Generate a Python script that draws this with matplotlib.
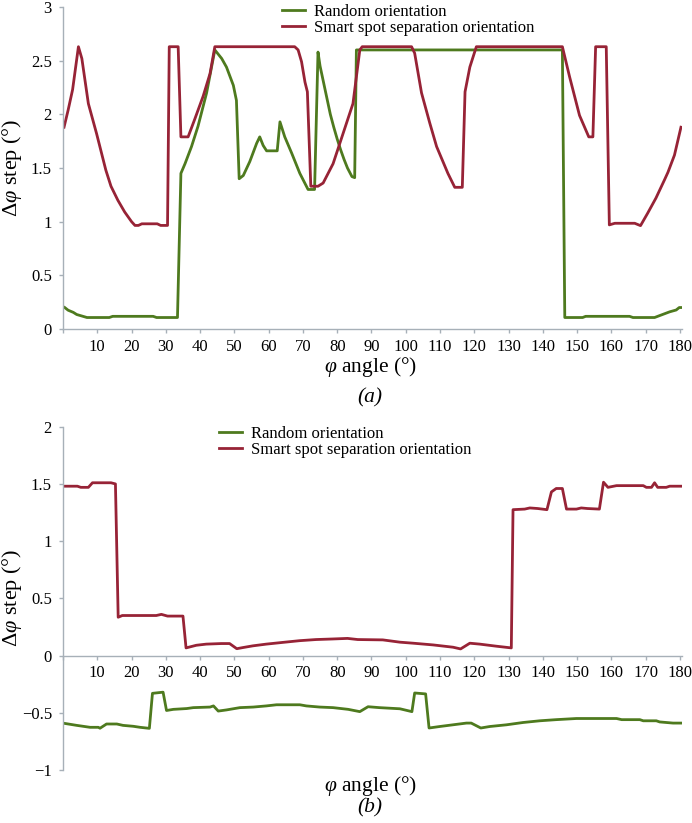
import matplotlib
matplotlib.use("Agg")
import matplotlib.pyplot as plt

GREEN = "#4e7a1e"
RED = "#972336"
AXIS_COLOR = "#a7b0b8"

plt.rcParams["font.family"] = ["Liberation Serif", "DejaVu Serif"]
plt.rcParams["mathtext.fontset"] = "custom"
plt.rcParams["mathtext.rm"] = "Liberation Serif"
plt.rcParams["mathtext.it"] = "Liberation Serif:italic"

LABELS = ["Random orientation", "Smart spot separation orientation"]

# panel (a)
a_random_x = [0.5, 1.5, 3, 4, 7, 13.5, 14.5, 26.3, 27.3, 33.4, 34.4, 35.6, 37.5, 39.4,
              41.9, 44.3, 46.3, 47.7, 49.7, 50.6, 51.4, 52.6, 54.5, 56.5, 57.4, 58.4,
              59.4, 62.5, 63.3, 64.7, 66.7, 69.1, 71.5, 73.4, 74.4, 75, 76, 77, 78, 79,
              80, 81, 82, 83, 84.3, 85.1, 85.6, 145.7, 146.4, 151.6, 152.5, 165.3, 166.3,
              172.6, 174.5, 177, 178.9, 179.8, 180.3]
a_random_y = [0.20, 0.175, 0.155, 0.135, 0.107, 0.107, 0.118, 0.118, 0.107, 0.107, 1.45,
              1.54, 1.70, 1.89, 2.20, 2.60, 2.52, 2.44, 2.27, 2.13, 1.40, 1.43, 1.56, 1.73,
              1.79, 1.71, 1.66, 1.66, 1.93, 1.79, 1.64, 1.45, 1.30, 1.30, 2.58, 2.45, 2.30,
              2.15, 2.00, 1.88, 1.77, 1.67, 1.58, 1.50, 1.42, 1.41, 2.60, 2.60, 0.107,
              0.107, 0.118, 0.118, 0.107, 0.107, 0.13, 0.16, 0.177, 0.20, 0.20]

a_smart_x = [0.3, 1.5, 2.8, 4.5, 5.5, 7.4, 9.8, 12.5, 14, 16, 18, 20, 21, 22, 23, 27.5,
             28.5, 30.5, 31, 33.6, 34.4, 36.5, 38.5, 40.9, 42.9, 44.3, 67.6, 68.6, 69.6,
             70.6, 71.3, 72.3, 74.4, 75.9, 78.8, 81.7, 84.6, 86.6, 87.3, 101.7, 102.6,
             104.6, 107, 109, 112.3, 114.3, 116.5, 117.3, 118.7, 120.6, 145.7, 147.8,
             150.7, 153.4, 154.6, 155.4, 158.5, 159.4, 161, 166.8, 168.5, 170.6, 173,
             175.5, 176.5, 178.4, 180.3]
a_smart_y = [1.88, 2.04, 2.23, 2.63, 2.52, 2.10, 1.82, 1.48, 1.33, 1.20, 1.09, 1.00, 0.965,
             0.965, 0.98, 0.98, 0.965, 0.965, 2.63, 2.63, 1.79, 1.79, 1.96, 2.17, 2.38,
             2.63, 2.63, 2.60, 2.49, 2.30, 2.21, 1.33, 1.33, 1.36, 1.54, 1.82, 2.10, 2.60,
             2.63, 2.63, 2.57, 2.20, 1.92, 1.70, 1.45, 1.32, 1.32, 2.21, 2.44, 2.63, 2.63,
             2.35, 1.99, 1.79, 1.79, 2.63, 2.63, 0.97, 0.985, 0.985, 0.963, 1.08, 1.22,
             1.39, 1.46, 1.62, 1.88]

# panel (b)
b_random_x = [0.3, 4, 7.9, 10.3, 10.8, 12.7, 15.7, 17.5, 20.5, 22.5, 25.2, 26.1, 29.2,
              30.2, 32.2, 36.1, 38, 42.9, 43.9, 45.3, 47.7, 51.6, 55.5, 59.3, 62.3, 69.1,
              71, 74.9, 78.8, 83.2, 86.6, 89, 92.3, 98.3, 101.8, 102.6, 105.8, 106.8,
              109.9, 113.8, 117.7, 119.1, 121.9, 124.5, 129.4, 134.2, 139.1, 143.9, 149.8,
              161.5, 163, 168.3, 169.3, 173.1, 174.1, 178, 180.3]
b_random_y = [-0.592, -0.61, -0.627, -0.627, -0.635, -0.598, -0.598, -0.61, -0.618, -0.627,
              -0.636, -0.33, -0.32, -0.48, -0.47, -0.463, -0.455, -0.45, -0.44, -0.485,
              -0.475, -0.455, -0.45, -0.44, -0.43, -0.43, -0.44, -0.45, -0.455, -0.47,
              -0.49, -0.447, -0.455, -0.465, -0.49, -0.327, -0.335, -0.633, -0.62, -0.605,
              -0.59, -0.59, -0.633, -0.62, -0.605, -0.585, -0.57, -0.56, -0.55, -0.55,
              -0.56, -0.56, -0.57, -0.57, -0.58, -0.59, -0.59]

b_smart_x = [0.3, 4.2, 5.2, 7.4, 8.6, 14, 15.3, 16.1, 17.3, 27.2, 28.7, 30.5, 35, 35.9,
             38.9, 41.8, 46.2, 48.6, 50.7, 52.5, 55.4, 59.3, 64.1, 69, 73.8, 78.7, 83, 86,
             93.3, 98.3, 102.2, 108, 113.8, 116, 118.7, 121.6, 126.4, 130.8, 131.3, 134.7,
             136.2, 138.5, 141.2, 142.5, 143.9, 145.7, 146.9, 149.8, 151.2, 153, 156.5,
             157.7, 159, 161.5, 169.3, 170.2, 171.7, 172.6, 173.5, 176, 177, 180.3]
b_smart_y = [1.48, 1.48, 1.47, 1.47, 1.51, 1.51, 1.50, 0.335, 0.35, 0.35, 0.36, 0.345,
             0.345, 0.067, 0.09, 0.10, 0.105, 0.105, 0.06, 0.07, 0.085, 0.10, 0.115, 0.13,
             0.14, 0.145, 0.15, 0.14, 0.137, 0.117, 0.108, 0.093, 0.073, 0.058, 0.108, 0.10,
             0.082, 0.067, 1.275, 1.28, 1.29, 1.285, 1.275, 1.43, 1.46, 1.46, 1.28, 1.28,
             1.29, 1.285, 1.28, 1.515, 1.47, 1.485, 1.485, 1.47, 1.47, 1.51, 1.47, 1.47,
             1.48, 1.48]

x_ticks = list(range(0, 181, 10))
x_tick_labels = [""] + [str(t) for t in x_ticks[1:]]
a_y_ticks = [0, 0.5, 1, 1.5, 2, 2.5, 3]
a_y_labels = ["0", "0.5", "1", "1.5", "2", "2.5", "3"]
b_y_ticks = [-1, -0.5, 0, 0.5, 1, 1.5, 2]
b_y_labels = ["\u22121", "\u22120.5", "0", "0.5", "1", "1.5", "2"]

W, H = 692, 823


def px_axes(left, top, right, bottom):
    return [left / W, 1 - bottom / H, (right - left) / W, (bottom - top) / H]


def style_axes(ax, ylim, yticks, ylabels):
    ax.set_xlim(0, 180.6)
    ax.set_ylim(*ylim)
    for side in ("top", "right"):
        ax.spines[side].set_visible(False)
    for side in ("left", "bottom"):
        ax.spines[side].set_color(AXIS_COLOR)
        ax.spines[side].set_linewidth(1.0)
    ax.spines["bottom"].set_position(("data", 0))
    ax.set_xticks(x_ticks)
    ax.set_xticklabels(x_tick_labels)
    ax.set_yticks(yticks)
    ax.set_yticklabels(ylabels)
    ax.tick_params(direction="out", length=3, width=1, color=AXIS_COLOR,
                   labelsize=12, labelcolor="black")
    ax.tick_params(axis="x", pad=4)
    ax.tick_params(axis="y", pad=5)


def add_legend(ax, left, top):
    ax.legend(loc="upper left", bbox_to_anchor=(left / W, 1 - top / H),
              bbox_transform=fig.transFigure, frameon=False, fontsize=12,
              borderpad=0, borderaxespad=0, handlelength=1.4, handletextpad=0.5,
              labelspacing=0.0)


fig = plt.figure(figsize=(W / 100, H / 100), dpi=100)

ax1 = fig.add_axes(px_axes(63, 7, 682, 329))
ax1.plot(a_random_x, a_random_y, color=GREEN, lw=2.0, label=LABELS[0])
ax1.plot(a_smart_x, a_smart_y, color=RED, lw=2.0, label=LABELS[1])
style_axes(ax1, (0, 3), a_y_ticks, a_y_labels)
add_legend(ax1, 282, 4)

ax2 = fig.add_axes(px_axes(63, 426.7, 682, 770))
ax2.plot(b_random_x, b_random_y, color=GREEN, lw=2.0, label=LABELS[0])
ax2.plot(b_smart_x, b_smart_y, color=RED, lw=2.0, label=LABELS[1])
style_axes(ax2, (-1, 2), b_y_ticks, b_y_labels)
add_legend(ax2, 219, 426)

ylab = r"$\Delta\varphi$ step (°)"
xlab = r"$\varphi$ angle (°)"
fig.text(12 / W, 1 - 168 / H, ylab, rotation=90, ha="center", va="center", fontsize=16)
fig.text(12 / W, 1 - 598 / H, ylab, rotation=90, ha="center", va="center", fontsize=16)
fig.text(371 / W, 1 - 367 / H, xlab, ha="center", va="center", fontsize=15.5)
fig.text(371 / W, 1 - 786 / H, xlab, ha="center", va="center", fontsize=15.5)
fig.text(370 / W, 1 - 398 / H, "(a)", ha="center", va="center", fontsize=15.5, style="italic")
fig.text(370 / W, 1 - 808 / H, "(b)", ha="center", va="center", fontsize=15.5, style="italic")

fig.savefig("out.png", dpi=100)
